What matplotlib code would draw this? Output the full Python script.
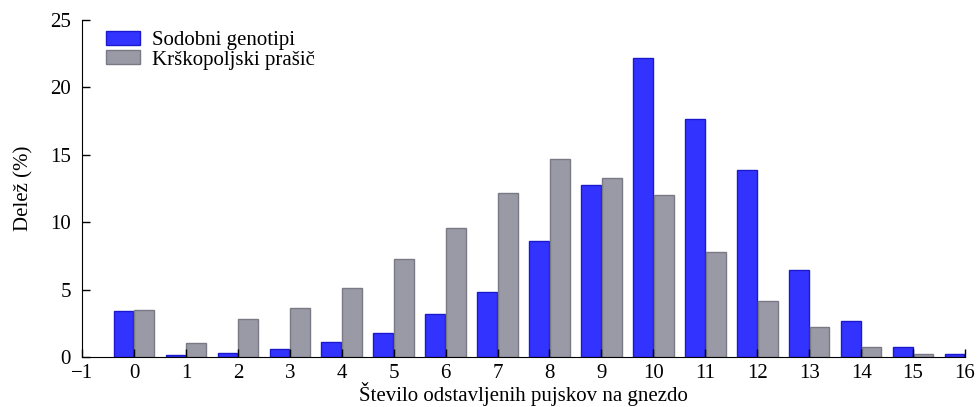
import numpy as np
import matplotlib
matplotlib.use('Agg')
import matplotlib.pyplot as plt

plt.rcParams['font.family'] = ['Liberation Serif', 'DejaVu Serif']
plt.rcParams['font.size'] = 15

# število odstavljenih pujskov na gnezdo
pujski = np.arange(0, 17)
sodobni = [3.43, 0.15, 0.32, 0.6, 1.08, 1.75, 3.16, 4.84, 8.6, 12.76,
           22.16, 17.67, 13.9, 6.43, 2.68, 0.77, 0.22]
krskopoljski = [3.46, 1.06, 2.84, 3.64, 5.15, 7.3, 9.6, 12.2, 14.69, 13.3,
                12.05, 7.8, 4.15, 2.25, 0.77, 0.22, 0.0]

fig = plt.figure(figsize=(9.79, 4.07), dpi=100)
ax = fig.add_axes([0.0838, 0.1229, 0.9019, 0.828])

w = 0.38
ax.bar(pujski - w / 2 - 0.01, sodobni, width=w, color='#3333ff',
       edgecolor='#1a1acc', linewidth=1.0, label='Sodobni genotipi')
ax.bar(pujski + w / 2 + 0.01, krskopoljski, width=w, color='#9a9aa6',
       edgecolor='#7a7a86', linewidth=1.0, label='Krškopoljski prašič')

ax.set_xlim(-1, 16)
ax.set_ylim(0, 25)
ax.set_xticks(np.arange(-1, 17))
ax.set_yticks([0, 5, 10, 15, 20, 25])

for s in ['top', 'right']:
    ax.spines[s].set_visible(False)
ax.tick_params(direction='in', length=6, width=1, pad=8)
ax.tick_params(axis='x', pad=5)

ax.set_xlabel('Število odstavljenih pujskov na gnezdo', labelpad=-1)
ax.set_ylabel('Delež (%)', labelpad=12)

ax.legend(loc='upper left', frameon=False, handlelength=1.6, handleheight=0.65,
          handletextpad=0.6, labelspacing=0.0, borderaxespad=0.3,
          bbox_to_anchor=(0.011, 1.01))

fig.savefig('out.png', dpi=100)
